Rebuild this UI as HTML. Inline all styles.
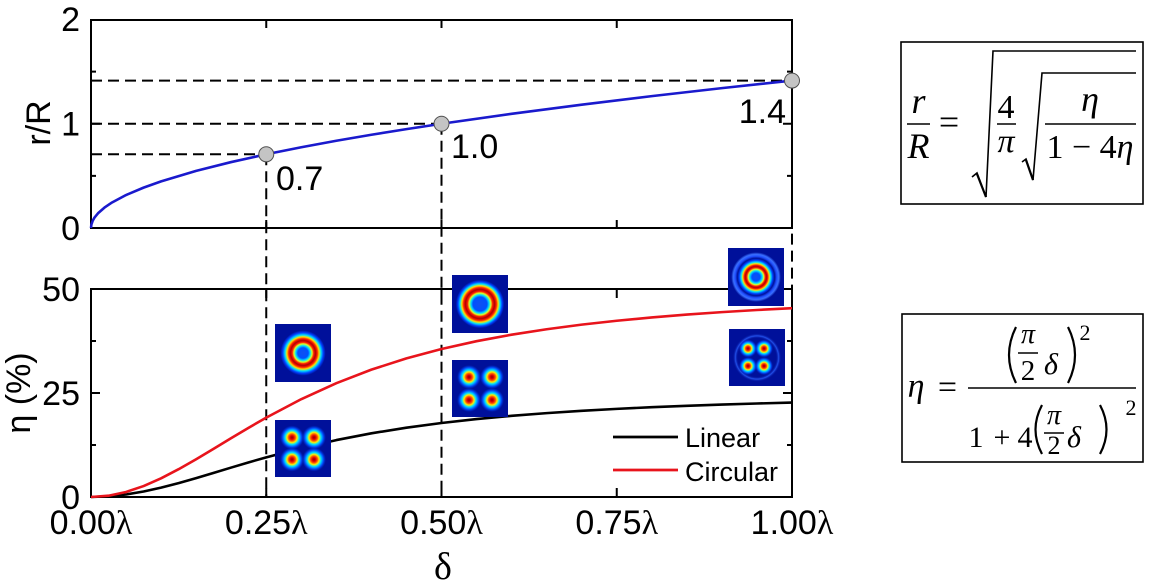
<!DOCTYPE html>
<html>
<head>
<meta charset="utf-8">
<style>
html,body{margin:0;padding:0;background:#fff;}
svg{display:block;}
</style>
</head>
<body>
<svg width="1149" height="581" viewBox="0 0 1149 581" xmlns="http://www.w3.org/2000/svg">
<defs>
  <radialGradient id="ringA" cx="0.5" cy="0.5" r="0.5">
    <stop offset="0" stop-color="#1050f0"/>
    <stop offset="0.20" stop-color="#0050ff"/>
    <stop offset="0.28" stop-color="#00e0ff"/>
    <stop offset="0.35" stop-color="#e0ff20"/>
    <stop offset="0.41" stop-color="#ff2000"/>
    <stop offset="0.48" stop-color="#b00000"/>
    <stop offset="0.55" stop-color="#ff2000"/>
    <stop offset="0.62" stop-color="#ffe000"/>
    <stop offset="0.69" stop-color="#00e0ff"/>
    <stop offset="0.78" stop-color="#0040ff"/>
    <stop offset="0.87" stop-color="#00109a"/>
    <stop offset="1" stop-color="#00109a"/>
  </radialGradient>
  <radialGradient id="ringB" cx="0.5" cy="0.5" r="0.5">
    <stop offset="0" stop-color="#1050f0"/>
    <stop offset="0.27" stop-color="#0050ff"/>
    <stop offset="0.35" stop-color="#00e0ff"/>
    <stop offset="0.42" stop-color="#e0ff20"/>
    <stop offset="0.48" stop-color="#ff2000"/>
    <stop offset="0.56" stop-color="#b00000"/>
    <stop offset="0.63" stop-color="#ff2000"/>
    <stop offset="0.70" stop-color="#ffe000"/>
    <stop offset="0.77" stop-color="#00e0ff"/>
    <stop offset="0.85" stop-color="#0040ff"/>
    <stop offset="0.93" stop-color="#00109a"/>
    <stop offset="1" stop-color="#00109a"/>
  </radialGradient>
  <radialGradient id="ringC" cx="0.5" cy="0.5" r="0.5">
    <stop offset="0" stop-color="#1050f0"/>
    <stop offset="0.15" stop-color="#0050ff"/>
    <stop offset="0.23" stop-color="#00e0ff"/>
    <stop offset="0.29" stop-color="#e0ff20"/>
    <stop offset="0.34" stop-color="#ff2000"/>
    <stop offset="0.39" stop-color="#b00000"/>
    <stop offset="0.44" stop-color="#ff2000"/>
    <stop offset="0.49" stop-color="#ffe000"/>
    <stop offset="0.55" stop-color="#00e0ff"/>
    <stop offset="0.62" stop-color="#0040ff"/>
    <stop offset="0.69" stop-color="#00109a"/>
    <stop offset="0.77" stop-color="#2050ff"/>
    <stop offset="0.84" stop-color="#3a70ff"/>
    <stop offset="0.92" stop-color="#00109a"/>
    <stop offset="1" stop-color="#00109a"/>
  </radialGradient>
  <radialGradient id="lobe" cx="0.5" cy="0.5" r="0.5">
    <stop offset="0" stop-color="#900000"/>
    <stop offset="0.15" stop-color="#e00000"/>
    <stop offset="0.30" stop-color="#ff6000"/>
    <stop offset="0.42" stop-color="#ffee00"/>
    <stop offset="0.58" stop-color="#00e0ff"/>
    <stop offset="0.78" stop-color="#0050ff"/>
    <stop offset="1" stop-color="#0030d0" stop-opacity="0"/>
  </radialGradient>
  <radialGradient id="halo" cx="0.5" cy="0.5" r="0.5">
    <stop offset="0" stop-color="#00109a" stop-opacity="0"/>
    <stop offset="0.7" stop-color="#00109a" stop-opacity="0"/>
    <stop offset="0.8" stop-color="#2a60ff" stop-opacity="0.8"/>
    <stop offset="0.9" stop-color="#00109a" stop-opacity="0"/>
    <stop offset="1" stop-color="#00109a" stop-opacity="0"/>
  </radialGradient>
</defs>

<!-- Frames -->
<g fill="none" stroke="#000" stroke-width="2">
  <rect x="91" y="20" width="701" height="208"/>
  <rect x="91" y="289" width="701" height="208"/>
</g>

<!-- Ticks -->
<g fill="none" stroke="#000" stroke-width="2">
  <path d="M91,123.75 h9 M91,71.6 h5 M91,175.9 h5 M792,123.75 h-9 M792,71.6 h-5 M792,175.9 h-5"/>
  <path d="M266.25,20 v8 M441.5,20 v8 M616.75,20 v8 M266.25,228 v-8 M441.5,228 v-8 M616.75,228 v-8"/>
  <path d="M91,393 h9 M91,341 h5 M91,445 h5 M792,393 h-9 M792,341 h-5 M792,445 h-5"/>
  <path d="M266.25,289 v9 M441.5,289 v9 M616.75,289 v9 M266.25,497 v-9 M441.5,497 v-9 M616.75,497 v-9"/>
</g>

<!-- Dashed guide lines -->
<g fill="none" stroke="#000" stroke-width="2" stroke-dasharray="11 6">
  <path d="M91,154.3 H266.25"/>
  <path d="M91,123.75 H441.5"/>
  <path d="M91,80.6 H792"/>
  <path d="M266.25,154.3 V497"/>
  <path d="M441.5,123.75 V497"/>
  <path d="M792,80.6 V497"/>
</g>

<!-- Curves -->
<path fill="none" stroke="#1a1acd" stroke-width="2.6" stroke-linejoin="round"
 d="M91,228 L91.35,224.7 L92.75,220.63 L94.5,217.58 L98.01,213.26 L105.02,207.15 L112.03,202.47 L126.05,195.03 L143.58,187.62 L161.1,181.38 L196.15,170.90 L231.2,162.07 L266.25,154.29 L301.3,147.25 L336.35,140.78 L371.4,134.76 L406.45,129.1 L441.5,123.75 L511.6,113.80 L581.7,104.65 L651.8,96.13 L721.9,88.14 L792,80.57"/>
<path fill="none" stroke="#000" stroke-width="2.6" stroke-linejoin="round"
 d="M91,497 L108.5,496.36 L126.05,494.5 L143.6,491.53 L161.1,487.66 L178.6,483.10 L196.15,478.1 L213.7,472.86 L231.2,467.56 L248.7,462.35 L266.25,457.32 L301.3,448.08 L336.35,440.08 L371.4,433.32 L406.45,427.68 L441.5,422.99 L476.55,419.09 L511.6,415.84 L546.65,413.12 L581.7,410.82 L616.75,408.87 L651.8,407.21 L686.85,405.79 L721.9,404.56 L756.95,403.5 L792,402.57"/>
<path fill="none" stroke="#e8141c" stroke-width="2.6" stroke-linejoin="round"
 d="M91,497 L108.5,495.73 L126.05,492.0 L143.6,486.06 L161.1,478.3 L178.6,469.21 L196.15,459.2 L213.7,448.72 L231.2,438.13 L248.7,427.7 L266.25,417.64 L301.3,399.15 L336.35,383.16 L371.4,369.65 L406.45,358.37 L441.5,348.99 L476.55,341.19 L511.6,334.68 L546.65,329.23 L581.7,324.64 L616.75,320.75 L651.8,317.43 L686.85,314.58 L721.9,312.12 L756.95,309.99 L792,308.14"/>

<!-- Points -->
<g fill="#c4c4c4" stroke="#505050" stroke-width="1">
  <circle cx="266.25" cy="154.3" r="7.5"/>
  <circle cx="441.5" cy="123.75" r="7.5"/>
  <circle cx="792" cy="80.6" r="7.5"/>
</g>

<!-- Inset images -->
<!-- 0.25 ring -->
<rect x="275" y="324" width="56" height="58" fill="#00109a"/>
<circle cx="303" cy="353" r="26" fill="url(#ringA)"/>
<!-- 0.25 lobes -->
<rect x="275" y="420" width="56" height="57" fill="#00109a"/>
<circle cx="292" cy="437.5" r="12" fill="url(#lobe)"/>
<circle cx="314" cy="437.5" r="12" fill="url(#lobe)"/>
<circle cx="292" cy="459.5" r="12" fill="url(#lobe)"/>
<circle cx="314" cy="459.5" r="12" fill="url(#lobe)"/>
<!-- 0.5 ring -->
<rect x="452" y="275" width="56" height="58" fill="#00109a"/>
<circle cx="480" cy="304" r="26" fill="url(#ringB)"/>
<!-- 0.5 lobes -->
<rect x="452" y="360" width="56" height="57" fill="#00109a"/>
<circle cx="469" cy="377" r="12" fill="url(#lobe)"/>
<circle cx="492" cy="377" r="12" fill="url(#lobe)"/>
<circle cx="469" cy="400" r="12" fill="url(#lobe)"/>
<circle cx="492" cy="400" r="12" fill="url(#lobe)"/>
<!-- 1.0 ring -->
<rect x="728" y="248" width="56" height="58" fill="#00109a"/>
<circle cx="756" cy="277" r="27" fill="url(#ringC)"/>
<!-- 1.0 lobes -->
<rect x="729" y="329" width="56" height="57" fill="#00109a"/>
<circle cx="757" cy="357.5" r="27" fill="url(#halo)"/>
<circle cx="748" cy="348.5" r="9" fill="url(#lobe)"/>
<circle cx="764" cy="348.5" r="9" fill="url(#lobe)"/>
<circle cx="748" cy="366" r="9" fill="url(#lobe)"/>
<circle cx="764" cy="366" r="9" fill="url(#lobe)"/>

<!-- Legend -->
<g stroke-width="2.8">
  <line x1="613" y1="437" x2="678" y2="437" stroke="#000"/>
  <line x1="613" y1="470" x2="678" y2="470" stroke="#e8141c"/>
</g>
<g font-family="'Liberation Sans', Arial, sans-serif" font-size="27" fill="#000">
  <text x="685" y="447">Linear</text>
  <text x="685" y="481">Circular</text>
</g>

<!-- Tick labels -->
<g font-family="'Liberation Sans', Arial, sans-serif" font-size="34" fill="#000">
  <text x="80" y="31" text-anchor="end">2</text>
  <text x="80" y="135.5" text-anchor="end">1</text>
  <text x="80" y="240" text-anchor="end">0</text>
  <text x="80" y="301" text-anchor="end">50</text>
  <text x="80" y="405" text-anchor="end">25</text>
  <text x="80" y="509" text-anchor="end">0</text>

  <text x="91" y="534" text-anchor="middle">0.00<tspan font-family="'Liberation Serif', serif">λ</tspan></text>
  <text x="266.25" y="534" text-anchor="middle">0.25<tspan font-family="'Liberation Serif', serif">λ</tspan></text>
  <text x="441.5" y="534" text-anchor="middle">0.50<tspan font-family="'Liberation Serif', serif">λ</tspan></text>
  <text x="616.75" y="534" text-anchor="middle">0.75<tspan font-family="'Liberation Serif', serif">λ</tspan></text>
  <text x="792" y="534" text-anchor="middle">1.00<tspan font-family="'Liberation Serif', serif">λ</tspan></text>

  <!-- data labels -->
  <text x="276" y="190">0.7</text>
  <text x="451" y="158">1.0</text>
  <text x="786" y="123" text-anchor="end">1.4</text>

  <!-- axis titles -->
  <text transform="translate(50,123) rotate(-90)" text-anchor="middle">r/R</text>
  <text transform="translate(30,393) rotate(-90)" text-anchor="middle">η (%)</text>
</g>
<text x="443" y="579" text-anchor="middle" font-family="'Liberation Serif', serif" font-size="38">δ</text>

<!-- Formula box 1 -->
<rect x="901" y="42" width="242" height="162" fill="none" stroke="#000" stroke-width="1.6"/>
<g font-family="'Liberation Serif', 'DejaVu Serif', serif" fill="#000">
  <text x="918.5" y="113" font-size="36" font-style="italic" text-anchor="middle">r</text>
  <text x="918.5" y="158" font-size="36" font-style="italic" text-anchor="middle">R</text>
  <text x="949" y="134" font-size="36" text-anchor="middle">=</text>
  <text x="1006" y="118" font-size="34" text-anchor="middle">4</text>
  <text x="1006" y="152" font-size="34" font-style="italic" text-anchor="middle">π</text>
  <text x="1090" y="111" font-size="36" font-style="italic" text-anchor="middle">η</text>
  <text x="1090" y="158" font-size="34" text-anchor="middle">1 − 4<tspan font-style="italic">η</tspan></text>
</g>
<g fill="none" stroke="#000" stroke-width="1.6">
  <line x1="907" y1="124" x2="930" y2="124"/>
  <line x1="997" y1="124" x2="1016" y2="124"/>
  <line x1="1045" y1="124" x2="1136" y2="124"/>
  <path d="M972,177 L977,173 L986,197 L993,51 L1136,51" stroke-linejoin="miter"/>
  <path d="M1022,162 L1026,159 L1033,180 L1042,73 L1136,73" stroke-linejoin="miter"/>
</g>
<g fill="none" stroke="#000" stroke-width="2.2">
  <path d="M977,174 L986,197"/>
  <path d="M1026,160 L1033,180"/>
</g>

<!-- Formula box 2 -->
<rect x="902" y="314" width="241" height="148" fill="none" stroke="#000" stroke-width="1.6"/>
<g font-family="'Liberation Serif', 'DejaVu Serif', serif" fill="#000">
  <text x="916" y="397" font-size="34" font-style="italic" text-anchor="middle">η</text>
  <text x="947.5" y="398" font-size="34" text-anchor="middle">=</text>
  <!-- numerator -->
  <text x="1028" y="343" font-size="28" font-style="italic" text-anchor="middle">π</text>
  <text x="1028" y="380" font-size="29" text-anchor="middle">2</text>
  <text x="1051" y="374" font-size="30" font-style="italic" text-anchor="middle">δ</text>
  <text x="1085" y="340" font-size="22" text-anchor="middle">2</text>
  <!-- denominator -->
  <text x="976" y="447" font-size="30" text-anchor="middle">1</text>
  <text x="1002" y="447" font-size="30" text-anchor="middle">+</text>
  <text x="1025" y="447" font-size="30" text-anchor="middle">4</text>
  <text x="1054" y="424" font-size="28" font-style="italic" text-anchor="middle">π</text>
  <text x="1054" y="454" font-size="26" text-anchor="middle">2</text>
  <text x="1074" y="447" font-size="30" font-style="italic" text-anchor="middle">δ</text>
  <text x="1131" y="415" font-size="22" text-anchor="middle">2</text>
</g>
<g fill="none" stroke="#000">
  <line x1="968" y1="388" x2="1136" y2="388" stroke-width="1.6"/>
  <line x1="1018" y1="353" x2="1038" y2="353" stroke-width="1.4"/>
  <line x1="1044" y1="433" x2="1064" y2="433" stroke-width="1.4"/>
  <path d="M1016,327 Q1002,355 1016,383" stroke-width="2.2"/>
  <path d="M1068,327 Q1082,355 1068,383" stroke-width="2.2"/>
  <path d="M1042,405 Q1029,429.5 1042,454" stroke-width="2.2"/>
  <path d="M1100,405 Q1113,429.5 1100,454" stroke-width="2.2"/>
</g>
</svg>
</body>
</html>
